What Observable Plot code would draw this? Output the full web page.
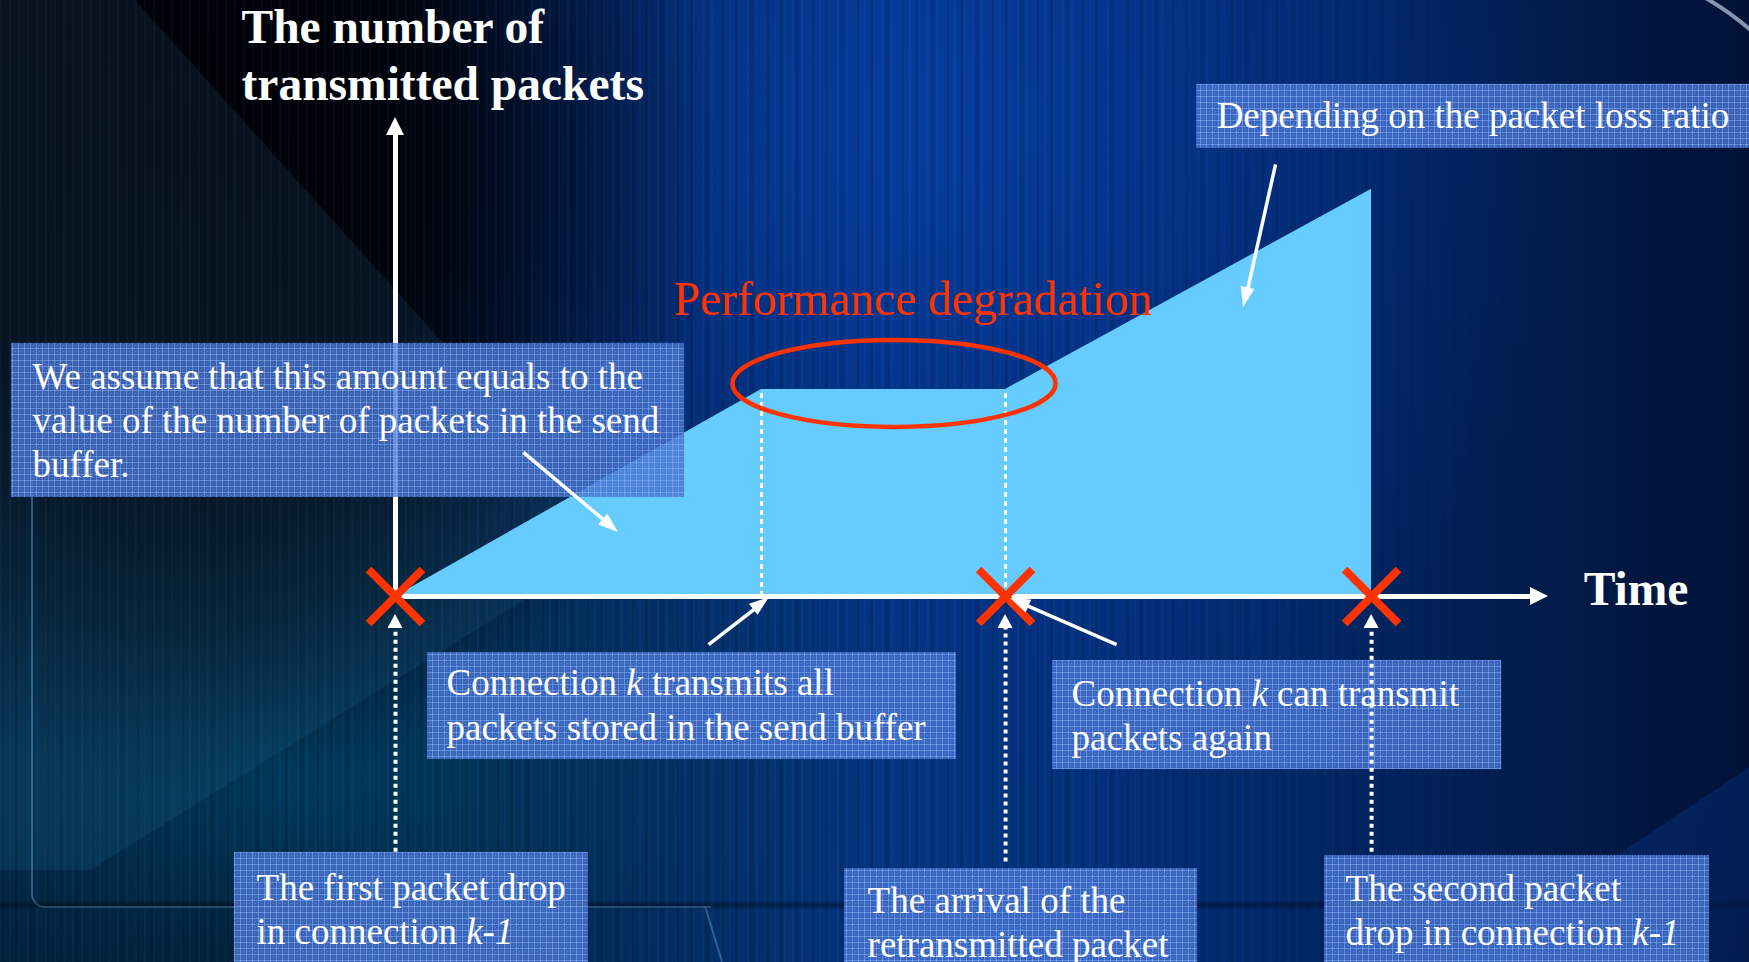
<!DOCTYPE html>
<html>
<head>
<meta charset="utf-8">
<script src="https://cdn.jsdelivr.net/npm/d3@7"></script>
<script src="https://cdn.jsdelivr.net/npm/@observablehq/plot@0.6"></script>
<style>
  html, body { margin: 0; padding: 0; background: #01173f; overflow: hidden; }
  #stage {
    position: relative; width: 1749px; height: 962px; overflow: hidden;
    background:
      radial-gradient(ellipse 520px 640px at 200px 160px, rgba(0,2,8,1) 0%, rgba(0,2,8,0.9) 45%, rgba(0,2,8,0) 100%),
      radial-gradient(ellipse 700px 420px at 280px 760px, rgba(0,75,115,0.75) 0%, rgba(0,60,100,0.35) 60%, rgba(0,0,0,0) 100%),
      radial-gradient(ellipse 650px 700px at 930px 120px, rgba(6,62,160,0.95) 0%, rgba(4,50,140,0.5) 50%, rgba(0,0,0,0) 100%),
      linear-gradient(90deg, #03142a 0%, #020a18 12%, #03224f 32%, #043482 50%, #03307a 62%, #022766 75%, #011c4c 88%, #011236 100%);
  }
  .layer { position: absolute; pointer-events: none; }
  #streaks {
    left: 0; top: 0; width: 1749px; height: 962px;
    background:
      repeating-linear-gradient(90deg, rgba(140,190,255,0.04) 0 2px, rgba(0,0,0,0) 2px 9px),
      repeating-linear-gradient(90deg, rgba(0,0,0,0.10) 0 4px, rgba(0,0,0,0) 4px 15px);
    -webkit-mask-image: linear-gradient(90deg, #000 0%, #000 60%, rgba(0,0,0,0.15) 85%, rgba(0,0,0,0) 100%);
    mask-image: linear-gradient(90deg, #000 0%, #000 60%, rgba(0,0,0,0.15) 85%, rgba(0,0,0,0) 100%);
  }
  #wedge {
    left: 0; top: 0; width: 1749px; height: 962px;
    background: linear-gradient(180deg, rgba(40,80,120,0.2), rgba(30,110,150,0.18));
    clip-path: polygon(0 0, 135px 0, 620px 540px, 90px 870px, 0 870px);
  }
  #frame {
    left: 31px; top: 470px; width: 678px; height: 436px;
    border-left: 2px solid rgba(90,160,210,0.5);
    border-bottom: 2px solid rgba(90,160,210,0.5);
    border-bottom-left-radius: 14px;
  }
  #frame-edge {
    left: 706px; top: 906px; width: 58px; height: 2px;
    background: rgba(90,160,210,0.45);
    transform-origin: 0 0; transform: rotate(73deg);
  }
  #horizon {
    left: 0; top: 900px; width: 1749px; height: 10px;
    background: linear-gradient(180deg, rgba(0,0,0,0), rgba(0,5,20,0.45), rgba(0,0,0,0));
  }
  #corner {
    left: 0; top: 0; width: 1749px; height: 962px;
    background: linear-gradient(146deg, rgba(0,0,0,0) 64%, rgba(25,90,205,0.6) 65.5%, rgba(10,65,165,0.35) 80%, rgba(5,50,140,0.3) 100%);
    clip-path: polygon(1749px 767px, 1749px 962px, 1457px 962px);
  }
  #arc-clip { left: 1700px; top: 0; width: 49px; height: 34px; overflow: hidden; }
  #arc {
    position: absolute; left: -433px; top: -43px; width: 586px; height: 586px;
    border-radius: 50%; border: 4px solid rgba(190,205,230,0.7); box-sizing: border-box;
  }
  #chart { position: absolute; left: 0; top: 0; }
</style>
</head>
<body>
<div id="stage">
  <div class="layer" id="streaks"></div>
  <div class="layer" id="wedge"></div>
  <div class="layer" id="frame"></div>
  <div class="layer" id="frame-edge"></div>
  <div class="layer" id="horizon"></div>
  <div class="layer" id="corner"></div>
  <div class="layer" id="arc-clip"><div id="arc"></div></div>
  <div id="chart"></div>
</div>
<script>
// Breakpoints of the transmission curve (time units, packets)
const eventTimes   = [0, 3, 5, 8];
const packetCounts = [0, 3, 3, 5.9];
// Packet drops / arrival marked with a red cross on the time axis
const crossTimes   = [0, 5, 8];
// Times where the dotted guides rise from the axis to the plateau
const plateauTimes = [3, 5];
const plateauLevel = 3;
// Extent of the two axes
const timeMax   = 9.45;
const packetMax = 6.94;

// Labels
const yTitle = "The number of\ntransmitted packets";
const xTitle = "Time";
const degradationLabel = "Performance degradation";
const noteTexts = [
  "We assume that this amount equals to the\nvalue of the number of packets in the send\nbuffer.",
  "Connection *k* transmits all\npackets stored in the send buffer",
  "Connection *k* can transmit\npackets again",
  "The first packet drop\nin connection *k-1*",
  "The arrival of the\nretransmitted packet",
  "The second packet\ndrop in connection *k-1*",
  "Depending on the packet loss ratio"
];

// ---- annotation layout (in axis units) ----
const noteBoxes = [
  {x1: -3.148, x2: 2.369, y1: 1.435, y2: 3.667},
  {x1: 0.262,  x2: 4.598, y1: -2.362, y2: -0.812},
  {x1: 5.385,  x2: 9.066, y1: -2.507, y2: -0.928},
  {x1: -1.320, x2: 1.582, y1: -5.7, y2: -3.710},
  {x1: 3.680,  x2: 6.574, y1: -5.7, y2: -3.942},
  {x1: 7.615,  x2: 10.77, y1: -5.7, y2: -3.754},
  {x1: 6.566,  x2: 11.4,  y1: 6.493, y2: 7.420}
];
const noteAnchors = [
  {x: -2.975, y: 1.725}, {x: 0.418, y: -2.072}, {x: 5.541, y: -2.217},
  {x: -1.139, y: -5.029}, {x: 3.869, y: -5.217}, {x: 7.787, y: -5.043},
  {x: 6.730, y: 6.783}
];
const pointers = [
  {x1: 1.049, y1: 2.087,  x2: 1.828, y2: 0.928},
  {x1: 2.566, y1: -0.696, x2: 3.066, y2: -0.014},
  {x1: 5.910, y1: -0.696, x2: 5.041, y2: -0.029},
  {x1: 7.213, y1: 6.261,  x2: 6.951, y2: 4.188}
];
const dropPointerTails = [-3.70, -3.84, -3.70];
const dropPointerTip = -0.26;
const ellipseSpec = {cx: 4.09, cy: 3.08, rx: 1.324, ry: 0.63};

const curve = eventTimes.map((t, i) => ({time: t, packets: packetCounts[i]}));
const notes = noteTexts.map((text, i) => ({text, ...noteAnchors[i]}));
const dropPointers = crossTimes.map((t, i) => ({x1: t, x2: t, y1: dropPointerTails[i], y2: dropPointerTip}));
const axes = [
  {x1: 0, y1: 0, x2: 0, y2: packetMax},
  {x1: 0, y1: 0, x2: timeMax, y2: 0}
];

const serif = "'Liberation Serif', 'Times New Roman', Times, serif";
const red = "#ff3300";

// filled triangular arrow heads drawn through the plot scales
function arrowHeads(list, length, width, fill = "white") {
  return (index, scales) => {
    const g = d3.create("svg:g").attr("fill", fill);
    for (const a of list) {
      const x1 = scales.x(a.x1), y1 = scales.y(a.y1);
      const x2 = scales.x(a.x2), y2 = scales.y(a.y2);
      const d = Math.hypot(x2 - x1, y2 - y1);
      const ux = (x2 - x1) / d, uy = (y2 - y1) / d;
      const bx = x2 - ux * length, by = y2 - uy * length;
      const w = width / 2;
      g.append("path").attr("d",
        `M${x2},${y2}L${bx - uy * w},${by + ux * w}L${bx + uy * w},${by - ux * w}Z`);
    }
    return g.node();
  };
}

const gridDefs = () => {
  const defs = d3.create("svg:defs");
  const p = defs.append("pattern").attr("id", "note-grid")
    .attr("width", 6).attr("height", 6).attr("patternUnits", "userSpaceOnUse");
  p.append("path").attr("d", "M0,0.5H6M0.5,0V6")
    .attr("stroke", "rgba(150,190,255,0.45)").attr("stroke-width", 1).attr("fill", "none");
  p.append("rect").attr("x", 3).attr("y", 3).attr("width", 1).attr("height", 1)
    .attr("fill", "rgba(160,200,255,0.35)");
  return defs.node();
};

const ellipseMark = (index, scales) => {
  const {cx, cy, rx, ry} = ellipseSpec;
  return d3.create("svg:ellipse")
    .attr("cx", scales.x(cx)).attr("cy", scales.y(cy))
    .attr("rx", scales.x(cx + rx) - scales.x(cx))
    .attr("ry", scales.y(cy) - scales.y(cy + ry))
    .attr("fill", "none").attr("stroke", red).attr("stroke-width", 4.5)
    .node();
};

const chart = Plot.plot({
  width: 1749,
  height: 962,
  marginLeft: 395,
  marginRight: 201,
  marginTop: 117,
  marginBottom: 366,
  x: {domain: [0, timeMax], axis: null},
  y: {domain: [0, packetMax], axis: null},
  style: {background: "transparent", overflow: "visible"},
  marks: [
    gridDefs,
    Plot.areaY(curve, {x: "time", y: "packets", fill: "#66ccff"}),
    Plot.ruleX(plateauTimes, {y1: 0, y2: plateauLevel, stroke: "white", strokeWidth: 3, strokeDasharray: "5,4"}),
    // axes
    Plot.arrow(axes, {x1: "x1", y1: "y1", x2: "x2", y2: "y2", headLength: 0, insetEnd: 16,
      stroke: "white", strokeWidth: 5, strokeLinecap: "butt"}),
    arrowHeads(axes, 18, 18),
    // note boxes
    Plot.rect(noteBoxes, {x1: "x1", x2: "x2", y1: "y1", y2: "y2", fill: "#4672cf", fillOpacity: 0.82}),
    Plot.rect(noteBoxes, {x1: "x1", x2: "x2", y1: "y1", y2: "y2", fill: "url(#note-grid)"}),
    Plot.text(notes, {x: "x", y: "y", text: "text", textAnchor: "start", lineAnchor: "bottom",
      lineHeight: 1.19, fontSize: 37, fontFamily: serif, fill: "white"}),
    // degradation highlight
    ellipseMark,
    Plot.text([degradationLabel], {x: 2.279, y: 4.072, text: d => d, textAnchor: "start", lineAnchor: "bottom",
      fontSize: 47.5, fontFamily: serif, fill: red}),
    // drop markers and pointers
    Plot.arrow(dropPointers, {x1: "x1", y1: "y1", x2: "x2", y2: "y2", headLength: 0, insetEnd: 12,
      stroke: "white", strokeWidth: 4, strokeDasharray: "4,4", strokeLinecap: "butt"}),
    arrowHeads(dropPointers, 14, 15),
    Plot.dot(crossTimes, {x: d => d, y: 0, symbol: "times", r: 24.6, stroke: red, strokeWidth: 8}),
    Plot.arrow(pointers, {x1: "x1", y1: "y1", x2: "x2", y2: "y2", headLength: 0, insetEnd: 16,
      stroke: "white", strokeWidth: 3.5, strokeLinecap: "butt"}),
    arrowHeads(pointers, 20, 14),
    // axis titles
    Plot.text([yTitle], {x: -1.262, y: 7.188, text: d => d, textAnchor: "start", lineAnchor: "bottom",
      lineHeight: 1.213, fontSize: 47.5, fontWeight: "bold", fontFamily: serif, fill: "white"}),
    Plot.text([xTitle], {x: 9.738, y: -0.116, text: d => d, textAnchor: "start", lineAnchor: "bottom",
      fontSize: 47.5, fontWeight: "bold", fontFamily: serif, fill: "white"})
  ]
});

// *...* segments are set in italics
const walker = document.createTreeWalker(chart, NodeFilter.SHOW_TEXT);
const marked = [];
while (walker.nextNode()) if (walker.currentNode.nodeValue.includes("*")) marked.push(walker.currentNode);
for (const node of marked) {
  const frag = document.createDocumentFragment();
  node.nodeValue.split("*").forEach((part, i) => {
    if (!part) return;
    if (i % 2) {
      const t = document.createElementNS("http://www.w3.org/2000/svg", "tspan");
      t.setAttribute("font-style", "italic");
      t.textContent = part;
      frag.appendChild(t);
    } else frag.appendChild(document.createTextNode(part));
  });
  node.parentNode.replaceChild(frag, node);
}

document.getElementById("chart").appendChild(chart);
</script>
</body>
</html>
